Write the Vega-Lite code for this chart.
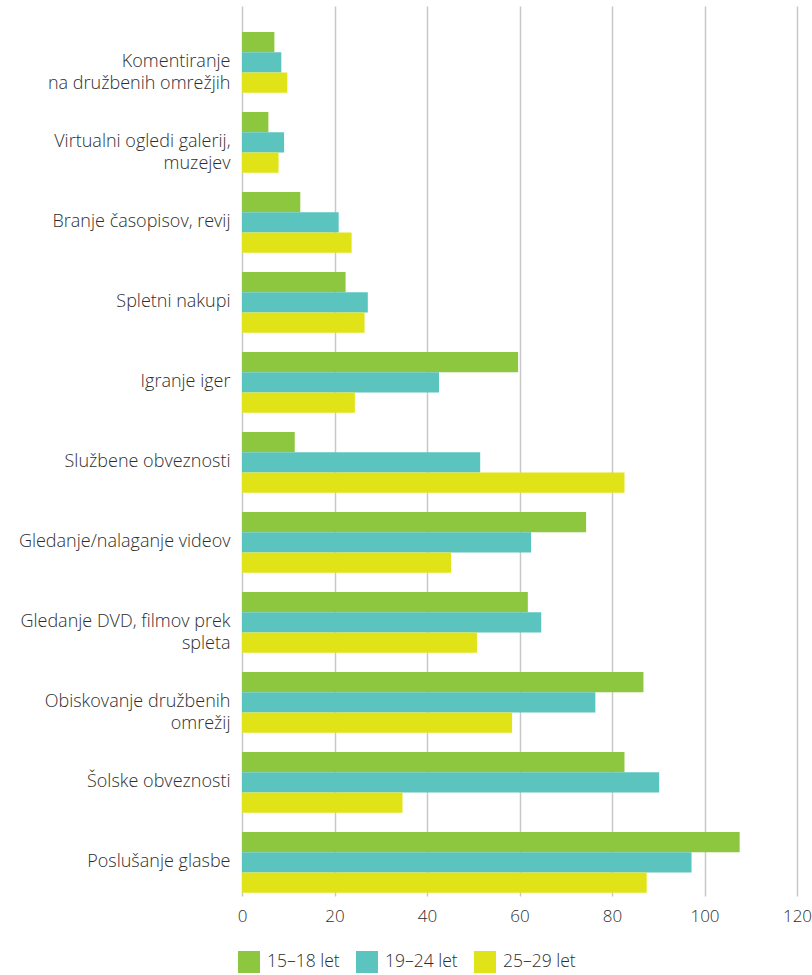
{
  "$schema": "https://vega.github.io/schema/vega-lite/v6.json",
  "autosize": {"type": "none"},
  "padding": {"left": 242, "top": 6, "right": 15, "bottom": 79},
  "width": 555,
  "height": 890,
  "background": "white",
  "config": {
    "view": {"stroke": null},
    "font": "Open Sans",
    "axis": {"labelFont": "Open Sans", "labelColor": "#2e2e2e", "labelFontSize": 16}
  },
  "data": {
    "values": [
      {"activity": "Komentiranje|na družbenih omrežjih", "group": "15–18 let", "value": 7.0},
      {"activity": "Komentiranje|na družbenih omrežjih", "group": "19–24 let", "value": 8.5},
      {"activity": "Komentiranje|na družbenih omrežjih", "group": "25–29 let", "value": 9.8},
      {"activity": "Virtualni ogledi galerij,|muzejev", "group": "15–18 let", "value": 5.7},
      {"activity": "Virtualni ogledi galerij,|muzejev", "group": "19–24 let", "value": 9.1},
      {"activity": "Virtualni ogledi galerij,|muzejev", "group": "25–29 let", "value": 7.9},
      {"activity": "Branje časopisov, revij", "group": "15–18 let", "value": 12.6},
      {"activity": "Branje časopisov, revij", "group": "19–24 let", "value": 20.9},
      {"activity": "Branje časopisov, revij", "group": "25–29 let", "value": 23.7},
      {"activity": "Spletni nakupi", "group": "15–18 let", "value": 22.4},
      {"activity": "Spletni nakupi", "group": "19–24 let", "value": 27.2},
      {"activity": "Spletni nakupi", "group": "25–29 let", "value": 26.5},
      {"activity": "Igranje iger", "group": "15–18 let", "value": 59.7},
      {"activity": "Igranje iger", "group": "19–24 let", "value": 42.6},
      {"activity": "Igranje iger", "group": "25–29 let", "value": 24.4},
      {"activity": "Službene obveznosti", "group": "15–18 let", "value": 11.4},
      {"activity": "Službene obveznosti", "group": "19–24 let", "value": 51.5},
      {"activity": "Službene obveznosti", "group": "25–29 let", "value": 82.7},
      {"activity": "Gledanje/nalaganje videov", "group": "15–18 let", "value": 74.4},
      {"activity": "Gledanje/nalaganje videov", "group": "19–24 let", "value": 62.5},
      {"activity": "Gledanje/nalaganje videov", "group": "25–29 let", "value": 45.2},
      {"activity": "Gledanje DVD, filmov prek|spleta", "group": "15–18 let", "value": 61.8},
      {"activity": "Gledanje DVD, filmov prek|spleta", "group": "19–24 let", "value": 64.7},
      {"activity": "Gledanje DVD, filmov prek|spleta", "group": "25–29 let", "value": 50.8},
      {"activity": "Obiskovanje družbenih|omrežij", "group": "15–18 let", "value": 86.8},
      {"activity": "Obiskovanje družbenih|omrežij", "group": "19–24 let", "value": 76.4},
      {"activity": "Obiskovanje družbenih|omrežij", "group": "25–29 let", "value": 58.4},
      {"activity": "Šolske obveznosti", "group": "15–18 let", "value": 82.7},
      {"activity": "Šolske obveznosti", "group": "19–24 let", "value": 90.2},
      {"activity": "Šolske obveznosti", "group": "25–29 let", "value": 34.7},
      {"activity": "Poslušanje glasbe", "group": "15–18 let", "value": 107.6},
      {"activity": "Poslušanje glasbe", "group": "19–24 let", "value": 97.2},
      {"activity": "Poslušanje glasbe", "group": "25–29 let", "value": 87.5}
    ]
  },
  "mark": {"type": "bar"},
  "encoding": {
    "y": {
      "field": "activity",
      "type": "nominal",
      "sort": null,
      "scale": {"paddingInner": 0.24, "paddingOuter": 0.1825, "align": 0.89},
      "axis": {
        "title": null,
        "ticks": false,
        "domain": false,
        "labelPadding": 12,
        "labelFontSize": 18,
        "labelFontWeight": 300,
        "labelLineHeight": 22,
        "labelExpr": "split(datum.value, '|')",
        "labelLimit": 300
      }
    },
    "yOffset": {"field": "group", "type": "nominal", "scale": {"paddingInner": 0, "paddingOuter": 0}},
    "x": {
      "field": "value",
      "type": "quantitative",
      "scale": {"domain": [0, 120], "nice": false},
      "axis": {
        "title": null,
        "values": [0, 20, 40, 60, 80, 100, 120],
        "ticks": false,
        "domain": false,
        "grid": true,
        "gridColor": "#c8c8c8",
        "gridWidth": 1.5,
        "labelPadding": 12,
        "labelFontSize": 17,
        "labelFontWeight": 300,
        "labelFlush": false
      }
    },
    "color": {
      "field": "group",
      "type": "nominal",
      "scale": {"domain": ["15–18 let", "19–24 let", "25–29 let"], "range": ["#8dc63f", "#5bc4be", "#e0e317"]},
      "legend": {
        "title": null,
        "orient": "none",
        "direction": "horizontal",
        "legendX": -4,
        "legendY": 945,
        "symbolType": "square",
        "symbolSize": 484,
        "symbolStrokeWidth": 0,
        "labelFontSize": 17.5,
        "labelFontWeight": 300,
        "labelFont": "Open Sans",
        "labelColor": "#2e2e2e",
        "labelOffset": 7,
        "columnPadding": 16,
        "padding": 0
      }
    }
  }
}
